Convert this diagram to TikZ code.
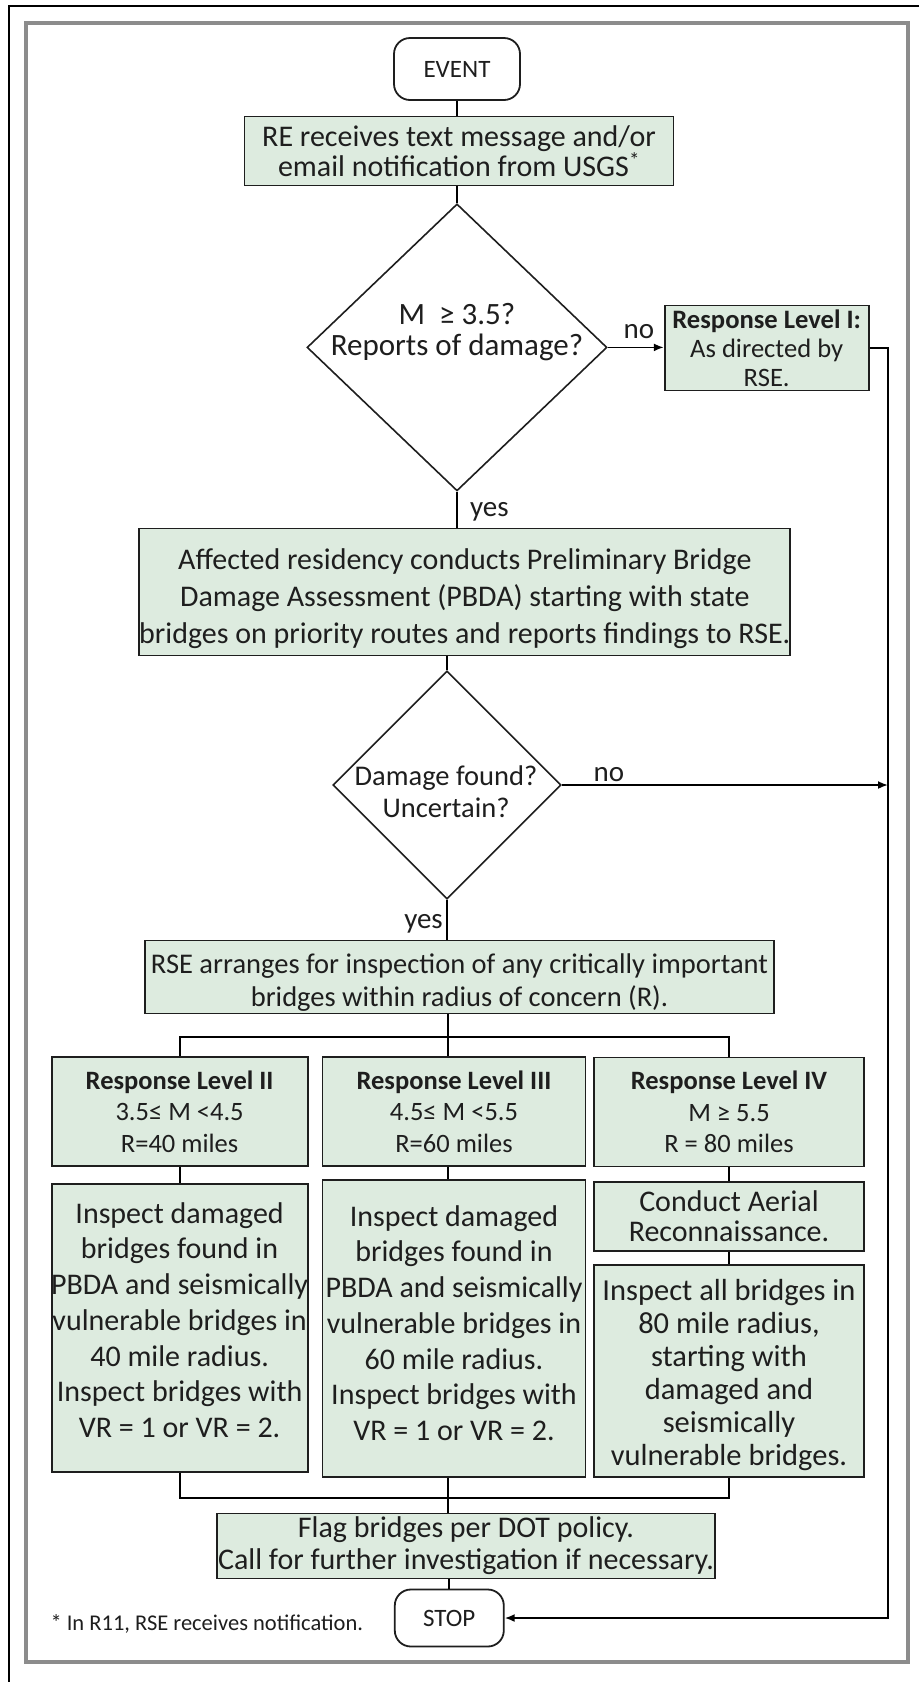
\documentclass[tikz,border=0pt]{standalone}
\usepackage{fontspec}
\setmainfont{Carlito}
\usetikzlibrary{shapes.geometric,arrows.meta}
\definecolor{boxfill}{RGB}{221,235,223}
\definecolor{framegray}{RGB}{140,140,140}
\definecolor{ink}{RGB}{30,30,30}
\newcommand\myfs[2]{\fontsize{#1}{#2}\selectfont}
\begin{document}
\begin{tikzpicture}[x=1pt,y=-1pt,
  every node/.style={font=\myfs{30}{35}, text=ink},
  gbox/.style={draw=ink, line width=1.8pt, fill=boxfill, align=center, inner sep=0pt},
  txt/.style={align=center, inner sep=0pt},
  term/.style={draw=ink, line width=1.8pt, rounded corners=16pt, fill=white, align=center, inner sep=0pt, font=\myfs{25}{30}},
  dec/.style={diamond, draw=ink, line width=1.6pt, fill=white, inner sep=0pt},
  conn/.style={draw=black, line width=1.8pt},
  arr/.style={conn, -{Latex[length=10pt,width=8pt]}},
  lvl/.style={gbox, minimum height=109pt, font=\myfs{26.5}{31.6}},
  lab/.style={font=\myfs{29}{30}},
  small/.style={font=\myfs{22.5}{26}}
]
\useasboundingbox (0,0) rectangle (919,1682);
\fill[white] (0,0) rectangle (919,1682);
\draw[black, line width=2.2pt] (919,6) -- (9,6) -- (9,1682);
\draw[framegray, line width=3.5pt] (26,23) rectangle (908,1662);

% upper part
\node[term, minimum width=126pt, minimum height=62pt] (ev) at (457,69) {EVENT};
\node[gbox, minimum width=429pt, minimum height=69pt, font=\myfs{30}{30}] (re) at (459,151) {RE receives text message and/or\\email notification from USGS\textsuperscript{*}};
\node[dec, minimum width=300pt, minimum height=287pt] (d1) at (457,347.4) {};
\node[txt, font=\myfs{31}{31}] (d1t) at (457,332) {M\ \ ≥ 3.5?\\Reports of damage?};
\node[gbox, minimum width=204pt, minimum height=85pt, font=\myfs{26.6}{29}] (l1) at (766.7,348) {\textbf{Response Level I:}\\As directed by\\RSE.};
\node[gbox, minimum width=651pt, minimum height=127pt] (aff) at (464.8,592) {};
\node[txt, font=\myfs{30}{37}] (afft) at (464.8,598.5) {Affected residency conducts Preliminary Bridge\\Damage Assessment (PBDA) starting with state\\bridges on priority routes and reports findings to RSE.};

% lower part
\node[dec, minimum width=228pt, minimum height=228pt] (d2) at (447,785) {};
\node[txt, font=\myfs{28.5}{32}] (d2t) at (446,792) {Damage found?\\Uncertain?};
\node[gbox, minimum width=629pt, minimum height=73pt] (rse) at (459.5,977) {};
\node[txt, font=\myfs{28.5}{33}] (rset) at (459.5,982.4) {RSE arranges for inspection of any critically important\\bridges within radius of concern (R).};
\node[lvl, minimum width=256pt] (l2) at (179.6,1111.5) {\textbf{Response Level II}\\3.5≤ M <4.5\\R=40 miles};
\node[lvl, minimum width=263pt] (l3) at (454,1111.5) {\textbf{Response Level III}\\4.5≤ M <5.5\\R=60 miles};
\node[lvl, minimum width=270pt] (l4) at (729,1112) {\textbf{Response Level IV}\\M ≥ 5.5\\R = 80 miles};
\node[gbox, minimum width=256pt, minimum height=288pt] (i2) at (179.6,1328) {};
\node[txt, font=\myfs{30}{35.7}] (i2t) at (179.6,1320) {Inspect damaged\\bridges found in\\PBDA and seismically\\vulnerable bridges in\\40 mile radius.\\Inspect bridges with\\VR = 1 or VR = 2.};
\node[gbox, minimum width=263pt, minimum height=297pt] (i3) at (454,1328.5) {};
\node[txt, font=\myfs{30}{35.7}] (i3t) at (454,1323) {Inspect damaged\\bridges found in\\PBDA and seismically\\vulnerable bridges in\\60 mile radius.\\Inspect bridges with\\VR = 1 or VR = 2.};
\node[gbox, minimum width=270pt, minimum height=69pt, font=\myfs{30}{30}] (c4) at (729,1216.5) {Conduct Aerial\\Reconnaissance.};
\node[gbox, minimum width=270pt, minimum height=212pt] (i4) at (729,1371) {};
\node[txt, font=\myfs{30.5}{33}] (i4t) at (729,1375) {Inspect all bridges in\\80 mile radius,\\starting with\\damaged and\\seismically\\vulnerable bridges.};
\node[gbox, minimum width=498pt, minimum height=65pt, font=\myfs{30}{32}] (flag) at (466,1546) {Flag bridges per DOT policy.\\Call for further investigation if necessary.};
\node[term, minimum width=109pt, minimum height=57pt] (stop) at (449.3,1618) {STOP};
\node[small, anchor=west] (note) at (47,1624) {* In R11, RSE receives notification.};

% labels
\node[lab] (no1) at (639,332) {no};
\node[lab] (no2) at (609,775) {no};
\node[lab, anchor=west, inner sep=2pt] (yes1) at (468,511.5) {yes};
\node[lab, anchor=east, inner sep=2pt] (yes2) at (445,924) {yes};

% coordinates
\coordinate (rtop) at (888,348);
\coordinate (rbot) at (888,1618);
\coordinate (bus1) at (448,1037);
\coordinate (bus2) at (448,1498);

% connectors
\draw[conn] (ev.south) -- (ev.south |- re.north);
\draw[conn] (re.south -| d1.north) -- (d1.north);
\draw[arr] (d1.east) -- (d1.east -| l1.west);
\draw[arr] (l1.east) -- (rtop) -- (rbot) -- (stop.east);
\draw[conn] (d1.south) -- (d1.south |- aff.north);
\draw[conn] (aff.south -| d2.north) -- (d2.north);
\draw[arr] (d2.east) -- (d2.east -| rtop);
\draw[conn] (d2.south) -- (d2.south |- rse.north);
\draw[conn] (rse.south -| bus1) -- (bus1) -- (bus1 |- l3.north);
\draw[conn] (l2.north) -- (l2.north |- bus1) -- (l4.north |- bus1) -- (l4.north);
\draw[conn] (l2.south) -- (l2.south |- i2.north);
\draw[conn] (l3.south -| bus1) -- (bus1 |- i3.north);
\draw[conn] (l4.south) -- (l4.south |- c4.north);
\draw[conn] (c4.south) -- (c4.south |- i4.north);
\draw[conn] (i2.south) -- (i2.south |- bus2) -- (i4.south |- bus2) -- (i4.south);
\draw[conn] (i3.south -| bus2) -- (bus2) -- (bus2 |- flag.north);
\draw[conn] (flag.south -| stop.north) -- (stop.north);
\end{tikzpicture}
\end{document}
